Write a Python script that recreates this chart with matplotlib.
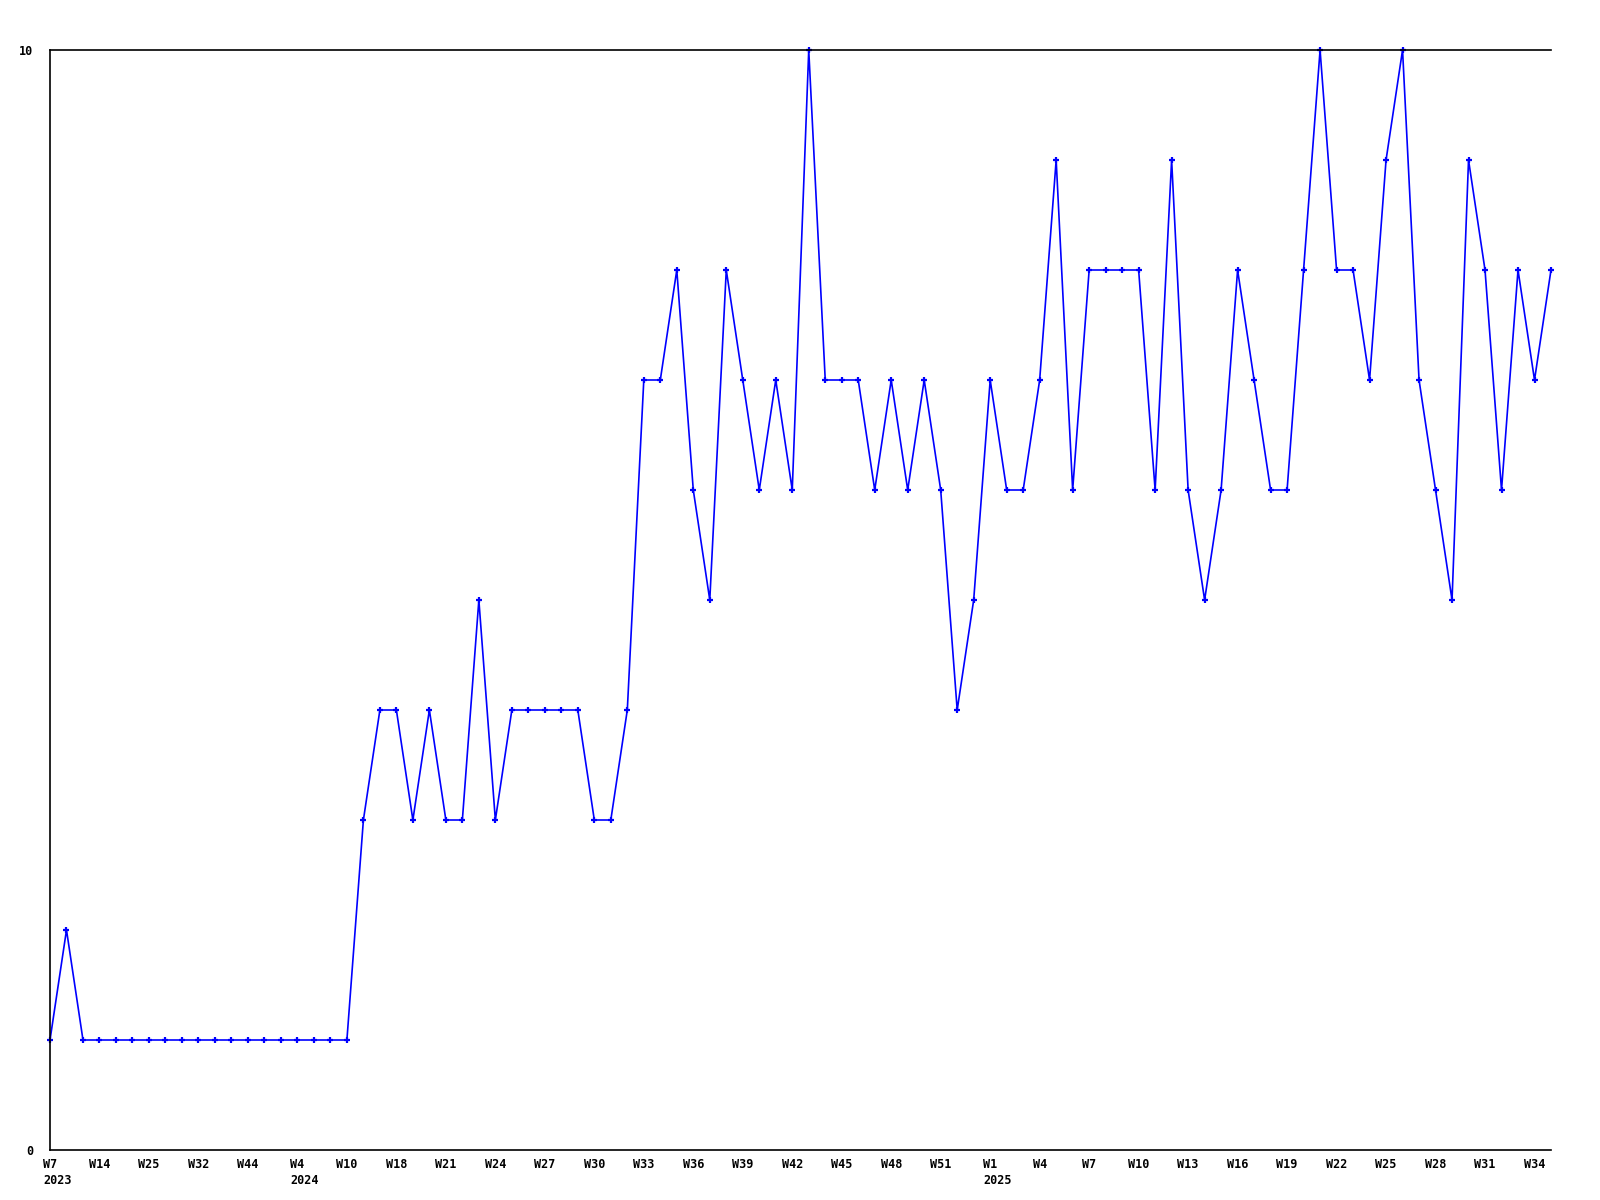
import matplotlib
matplotlib.use('Agg')
import matplotlib.pyplot as plt
import numpy as np

# Weekly counts, plotted one point per recorded week (index spacing)
values = [1, 2, 1, 1, 1, 1, 1, 1, 1, 1, 1, 1, 1, 1, 1, 1, 1, 1, 1,
          3, 4, 4, 3, 4, 3, 3, 5, 3, 4, 4, 4, 4, 4, 3, 3, 4,
          7, 7, 8, 6, 5, 8, 7, 6, 7, 6, 10, 7, 7, 7, 6, 7, 6, 7, 6,
          4, 5, 7, 6, 6, 7, 9, 6, 8, 8, 8, 8, 6, 9, 6, 5, 6, 8, 7, 6, 6,
          8, 10, 8, 8, 7, 9, 10, 7, 6, 5, 9, 8, 6, 8, 7, 8]

# Tick labels every third point
tick_weeks = ["W7", "W14", "W25", "W32", "W44",
              "W4", "W10", "W18", "W21", "W24", "W27", "W30", "W33", "W36",
              "W39", "W42", "W45", "W48", "W51",
              "W1", "W4", "W7", "W10", "W13", "W16", "W19", "W22", "W25",
              "W28", "W31", "W34"]
tick_years = {0: "2023", 5: "2024", 19: "2025"}

x = np.arange(len(values))
tick_pos = x[::3]

fig = plt.figure(figsize=(16, 12), dpi=100, facecolor='white')
ax = fig.add_axes([50 / 1600, 50 / 1200, 1501 / 1600, 1100 / 1200])

ax.plot(x, values, color='#0000ff', linewidth=1.2, marker='+',
        markersize=5, markeredgewidth=1.6, clip_on=False)

ax.set_xlim(0, len(values) - 1)
ax.set_ylim(0, 10)
ax.spines['right'].set_visible(False)
for s in ['left', 'top', 'bottom']:
    ax.spines[s].set_linewidth(1.2)
    ax.spines[s].set_color('black')

FS = 8.5
font = dict(family='DejaVu Sans Mono', weight='bold', size=FS)
ax.set_yticks([0, 10])
ax.set_yticklabels(["0", "10"], **font)
ax.set_xticks(tick_pos)
ax.set_xticklabels(tick_weeks, **font)
ax.tick_params(axis='both', length=0)
ax.tick_params(axis='y', pad=12)
ax.tick_params(axis='x', pad=6)

# year line sits under the week label, left-aligned with it
char_w = 0.602 * FS
for i, yr in tick_years.items():
    ax.annotate(yr, xy=(tick_pos[i], 0), xycoords=('data', 'axes fraction'),
                xytext=(-len(tick_weeks[i]) * char_w / 2, -17.5),
                textcoords='offset points', ha='left', va='top',
                annotation_clip=False, **font)

fig.savefig("out.png", dpi=100, facecolor='white')
